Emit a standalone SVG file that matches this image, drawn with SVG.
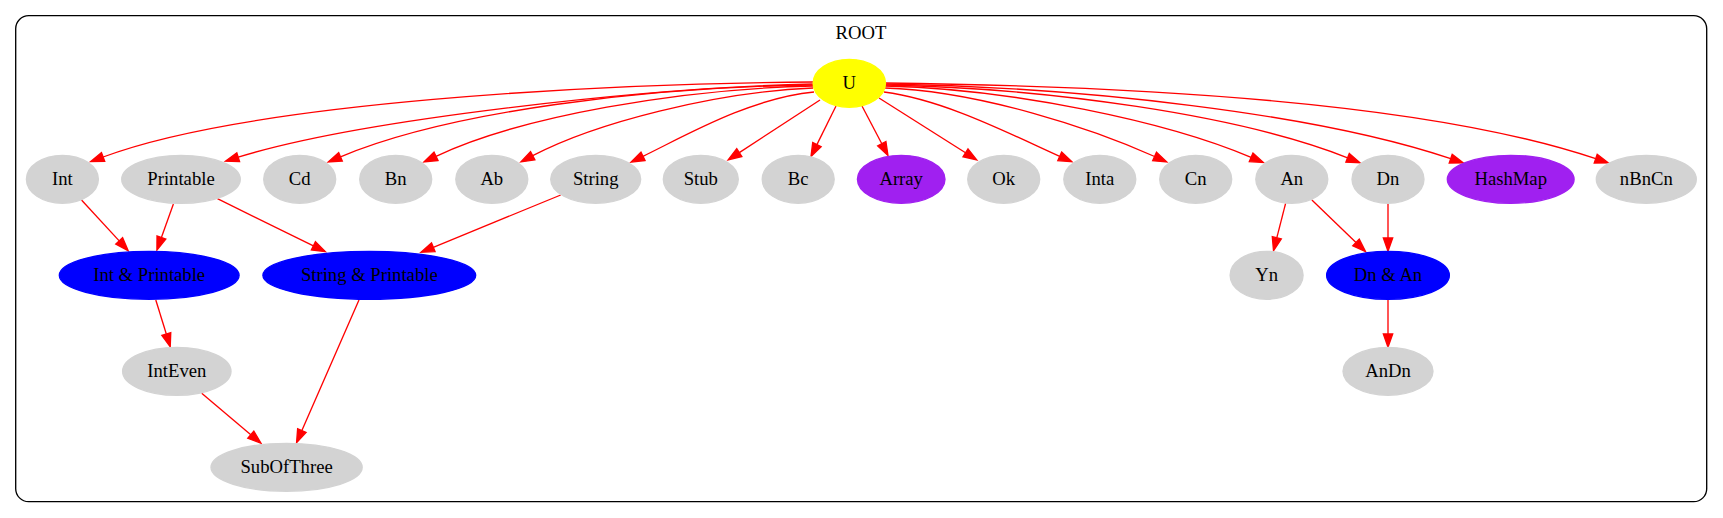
<svg xmlns="http://www.w3.org/2000/svg" width="1723" height="518" viewBox="0 0 1723 518">
<style>
text{font-family:"Liberation Serif","Times New Roman",serif;font-size:18.67px;text-anchor:middle;fill:#000}
.g{fill:#d3d3d3;stroke:#d3d3d3;stroke-width:1.33}
.b{fill:#0000ff;stroke:#0000ff;stroke-width:1.33}
.p{fill:#a020f0;stroke:#a020f0;stroke-width:1.33}
.y{fill:#ffff00;stroke:#ffff00;stroke-width:1.33}
.e path{fill:none;stroke:#ff0000;stroke-width:1.33;marker-end:url(#ah)}
</style>
<defs>
<marker id="ah" markerUnits="userSpaceOnUse" markerWidth="16" markerHeight="12" viewBox="-1 -1 16 12" refX="0" refY="4.67" orient="auto" overflow="visible">
<path d="M0,0 L13.3,4.67 L0,9.33 z" fill="#ff0000" stroke="#ff0000" stroke-width="1.33"/>
</marker>
</defs>
<rect width="1723" height="518" fill="#fff"/>
<g id="cluster_ROOT">
<rect x="15.7" y="15.7" width="1691" height="486" rx="13" ry="13" fill="none" stroke="#000" stroke-width="1.33"/>
<text x="861" y="39">ROOT</text>
</g>
<g id="edges" class="e">
<path d="M813,82 C600,83.5 250,102 103.1,157"/>
<path d="M813,84 C640,88 358,120 238.2,157.2"/>
<path d="M813,85 C648,87 449,111 340.5,156.8"/>
<path d="M813,86 C681,89 521,116 436,156.3"/>
<path d="M813,88 C715,92 595,123 532.7,155.7"/>
<path d="M814,92 C750,98 684,136.5 643,156.3"/>
<path d="M820,100 L739.3,152.6"/>
<path d="M836,106 L816.9,144.6"/>
<path d="M862,106 L881.8,143.7"/>
<path d="M879,98 L965.5,152.8"/>
<path d="M884,92 C945,100 1010,134 1059.7,156.3"/>
<path d="M885,88 C980,91 1093.6,129 1154.6,156.5"/>
<path d="M885,86 C1013,89 1166.5,121.4 1251.1,157.3"/>
<path d="M885,85 C1047,88 1239.7,114.9 1347.6,157.8"/>
<path d="M885,84 C1083,87 1316.7,113.6 1450.7,158.7"/>
<path d="M885,83 C1134,86 1426.6,101.7 1595.7,158.7"/>
<path d="M81.5,200 L119.2,240.9"/>
<path d="M173.4,204 L161.4,237.5"/>
<path d="M217.4,198.7 L313.4,245.8"/>
<path d="M560.7,195 L433.3,247.3"/>
<path d="M155.8,300 L166.3,334"/>
<path d="M359,300 L301.9,430.5"/>
<path d="M201.7,393.3 L250.8,434.7"/>
<path d="M1285.6,203.3 L1276.8,237.8"/>
<path d="M1311.9,200 L1356,242.5"/>
<path d="M1388,203.3 L1388,238"/>
<path d="M1388,299.3 L1388,334"/>
</g>
<g id="U"><ellipse class="y" cx="849.3" cy="83.3" rx="36.2" ry="24"/><text x="849.3" y="89">U</text></g>
<g id="Int"><ellipse class="g" cx="62.4" cy="179.3" rx="36" ry="24"/><text x="62.4" y="185">Int</text></g>
<g id="Printable"><ellipse class="g" cx="181" cy="179.3" rx="59.3" ry="24"/><text x="181" y="185">Printable</text></g>
<g id="Cd"><ellipse class="g" cx="299.7" cy="179.3" rx="36" ry="24"/><text x="299.7" y="185">Cd</text></g>
<g id="Bn"><ellipse class="g" cx="395.7" cy="179.3" rx="36" ry="24"/><text x="395.7" y="185">Bn</text></g>
<g id="Ab"><ellipse class="g" cx="491.8" cy="179.3" rx="36" ry="24"/><text x="491.8" y="185">Ab</text></g>
<g id="String"><ellipse class="g" cx="595.7" cy="179.3" rx="45" ry="24"/><text x="595.7" y="185">String</text></g>
<g id="Stub"><ellipse class="g" cx="700.8" cy="179.3" rx="37.5" ry="24"/><text x="700.8" y="185">Stub</text></g>
<g id="Bc"><ellipse class="g" cx="798.2" cy="179.3" rx="36" ry="24"/><text x="798.2" y="185">Bc</text></g>
<g id="Array"><ellipse class="p" cx="901.2" cy="179.3" rx="43.8" ry="24"/><text x="901.2" y="185">Array</text></g>
<g id="Ok"><ellipse class="g" cx="1003.7" cy="179.3" rx="36" ry="24"/><text x="1003.7" y="185">Ok</text></g>
<g id="Inta"><ellipse class="g" cx="1099.8" cy="179.3" rx="36" ry="24"/><text x="1099.8" y="185">Inta</text></g>
<g id="Cn"><ellipse class="g" cx="1195.7" cy="179.3" rx="36" ry="24"/><text x="1195.7" y="185">Cn</text></g>
<g id="An"><ellipse class="g" cx="1291.8" cy="179.3" rx="36" ry="24"/><text x="1291.8" y="185">An</text></g>
<g id="Dn"><ellipse class="g" cx="1388" cy="179.3" rx="36" ry="24"/><text x="1388" y="185">Dn</text></g>
<g id="HashMap"><ellipse class="p" cx="1510.7" cy="179.3" rx="63.4" ry="24"/><text x="1510.7" y="185">HashMap</text></g>
<g id="nBnCn"><ellipse class="g" cx="1646.3" cy="179.3" rx="50" ry="24"/><text x="1646.3" y="185">nBnCn</text></g>
<g id="IntPrintable"><ellipse class="b" cx="149.2" cy="275.3" rx="89.9" ry="24"/><text x="149.2" y="281">Int &amp; Printable</text></g>
<g id="StringPrintable"><ellipse class="b" cx="369.3" cy="275.3" rx="106.4" ry="24"/><text x="369.3" y="281">String &amp; Printable</text></g>
<g id="Yn"><ellipse class="g" cx="1266.6" cy="275.3" rx="36.5" ry="24"/><text x="1266.6" y="281">Yn</text></g>
<g id="DnAn"><ellipse class="b" cx="1388" cy="275.3" rx="61.4" ry="24"/><text x="1388" y="281">Dn &amp; An</text></g>
<g id="IntEven"><ellipse class="g" cx="176.8" cy="371.3" rx="54.2" ry="24"/><text x="176.8" y="377">IntEven</text></g>
<g id="AnDn"><ellipse class="g" cx="1388" cy="371.3" rx="45" ry="24"/><text x="1388" y="377">AnDn</text></g>
<g id="SubOfThree"><ellipse class="g" cx="286.6" cy="467.3" rx="75.6" ry="24"/><text x="286.6" y="473">SubOfThree</text></g>
</svg>
